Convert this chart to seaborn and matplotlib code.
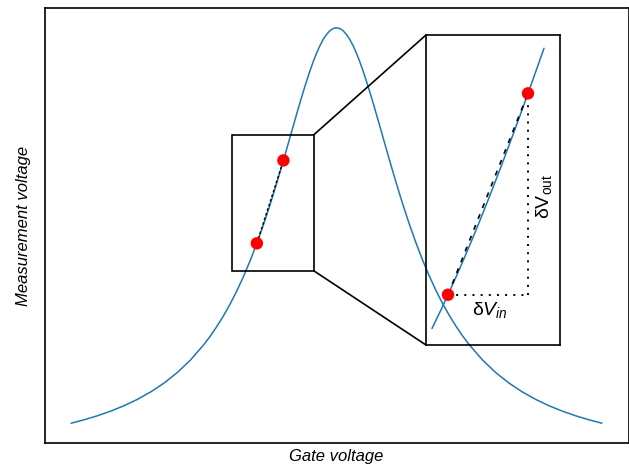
import matplotlib
matplotlib.use("Agg")
import matplotlib.pyplot as plt
from matplotlib.patches import Rectangle, ConnectionPatch
import seaborn as sns
import pandas as pd

# ---- data ----
gate_v = [-4.0, -3.8, -3.6, -3.4, -3.2, -3.0, -2.8, -2.6, -2.4, -2.2,
          -2.0, -1.9, -1.8, -1.7, -1.6, -1.5, -1.4, -1.3, -1.2, -1.1,
          -1.0, -0.95, -0.9, -0.85, -0.8, -0.75, -0.7, -0.65, -0.6, -0.55,
          -0.5, -0.45, -0.4, -0.35, -0.3, -0.25, -0.2, -0.15, -0.1, -0.05,
          0.0,
          0.05, 0.1, 0.15, 0.2, 0.25, 0.3, 0.35, 0.4, 0.45, 0.5,
          0.55, 0.6, 0.65, 0.7, 0.75, 0.8, 0.85, 0.9, 0.95, 1.0,
          1.1, 1.2, 1.3, 1.4, 1.5, 1.6, 1.7, 1.8, 1.9, 2.0,
          2.2, 2.4, 2.6, 2.8, 3.0, 3.2, 3.4, 3.6, 3.8, 4.0]
meas_v = [0.0826, 0.0907, 0.1000, 0.1108, 0.1233, 0.1379, 0.1552, 0.1756, 0.2000, 0.2293,
          0.2647, 0.2851, 0.3077, 0.3326, 0.3600, 0.3902, 0.4235, 0.4601, 0.5000, 0.5434,
          0.5902, 0.6147, 0.6400, 0.6659, 0.6923, 0.7191, 0.7461, 0.7732, 0.8000, 0.8264,
          0.8521, 0.8767, 0.9000, 0.9216, 0.9412, 0.9584, 0.9730, 0.9846, 0.9931, 0.9983,
          1.0000,
          0.9983, 0.9931, 0.9846, 0.9730, 0.9584, 0.9412, 0.9216, 0.9000, 0.8767, 0.8521,
          0.8264, 0.8000, 0.7732, 0.7461, 0.7191, 0.6923, 0.6659, 0.6400, 0.6147, 0.5902,
          0.5434, 0.5000, 0.4601, 0.4235, 0.3902, 0.3600, 0.3326, 0.3077, 0.2851, 0.2647,
          0.2293, 0.2000, 0.1756, 0.1552, 0.1379, 0.1233, 0.1108, 0.1000, 0.0907, 0.0826]

zoom_gate_v = [-1.28, -1.24, -1.20, -1.16, -1.12, -1.08, -1.04, -1.00,
               -0.96, -0.92, -0.88, -0.84, -0.80, -0.76, -0.72]
zoom_meas_v = [0.4678, 0.4836, 0.5000, 0.5169, 0.5344, 0.5525, 0.5711,
               0.5902, 0.6098, 0.6298, 0.6503, 0.6711, 0.6923, 0.7137, 0.7353]

point_gate_v = [-1.2, -0.8]
point_meas_v = [0.5, 0.6923]

box_x = [-1.57, -0.34]
box_y = [0.436, 0.752]
inset_xlim = [-1.31, -0.64]
inset_ylim = [0.452, 0.748]

xlabel = "Gate voltage"
ylabel = "Measurement voltage"
label_in = r"δ$V_{in}$"
label_out = r"δV$_{\mathrm{out}}$"

# ---- style ----
sns.set_style("white")
plt.rcParams["font.family"] = ["Liberation Sans", "DejaVu Sans"]
plt.rcParams["mathtext.fontset"] = "custom"
plt.rcParams["mathtext.rm"] = "Liberation Sans"
plt.rcParams["mathtext.it"] = "Liberation Sans:italic"
plt.rcParams["mathtext.bf"] = "Liberation Sans:bold"
plt.rcParams["text.color"] = "black"
plt.rcParams["axes.labelcolor"] = "black"

W, H = 629, 469
fig = plt.figure(figsize=(W / 100, H / 100), dpi=100)
ax = fig.add_axes([44.5 / W, (H - 443) / H, 584 / W, 435 / H])
axins = fig.add_axes([426 / W, (H - 345) / H, 134 / W, 310 / H])
axins.set_facecolor("none")

blue = "#1f77b4"
df = pd.DataFrame({"g": gate_v, "m": meas_v})
sns.lineplot(data=df, x="g", y="m", ax=ax, color=blue, lw=1.1, sort=True)
ax.set_xlim(-4.4, 4.4)
ax.set_ylim(0.0367, 1.0459)

pts = pd.DataFrame({"g": point_gate_v, "m": point_meas_v})
ax.plot(point_gate_v, point_meas_v, color="black", lw=1.0,
        linestyle=(0, (2, 1.5)), zorder=3)
sns.scatterplot(data=pts, x="g", y="m", ax=ax, color="red", s=80,
                edgecolor="none", zorder=4)
ax.add_patch(Rectangle((box_x[0], box_y[0]), box_x[1] - box_x[0],
                       box_y[1] - box_y[0], fill=False, ec="black", lw=1.2,
                       zorder=5))

ax.set_xticks([])
ax.set_yticks([])
ax.set_xlabel(xlabel, fontsize=12, style="italic", labelpad=4)
ax.set_ylabel(ylabel, fontsize=12, style="italic", labelpad=10)
for s in ax.spines.values():
    s.set_color("black")
    s.set_linewidth(1.2)

# inset
zdf = pd.DataFrame({"g": zoom_gate_v, "m": zoom_meas_v})
sns.lineplot(data=zdf, x="g", y="m", ax=axins, color=blue, lw=1.1)
axins.plot(point_gate_v, point_meas_v, color="black", lw=1.2,
           linestyle=(0, (3, 4)), zorder=3)
axins.plot([point_gate_v[0], point_gate_v[1]], [point_meas_v[0], point_meas_v[0]],
           color="black", lw=1.4, linestyle=(0, (1, 3.2)), zorder=3)
axins.plot([point_gate_v[1], point_gate_v[1]], [point_meas_v[0], point_meas_v[1]],
           color="black", lw=1.4, linestyle=(0, (1, 3.2)), zorder=3)
sns.scatterplot(data=pts, x="g", y="m", ax=axins, color="red", s=80,
                edgecolor="none", zorder=4)
axins.set_xlim(*inset_xlim)
axins.set_ylim(*inset_ylim)
axins.set_xticks([])
axins.set_yticks([])
axins.set_xlabel("")
axins.set_ylabel("")
for s in axins.spines.values():
    s.set_color("black")
    s.set_linewidth(1.2)

axins.text(-0.99, 0.4857, label_in, fontsize=14, ha="center", va="center")
axins.text(-0.72, 0.594, label_out, fontsize=14, ha="center", va="center",
           rotation=90)

for yb, ya in [(box_y[1], 1), (box_y[0], 0)]:
    con = ConnectionPatch(xyA=(box_x[1], yb), coordsA=ax.transData,
                          xyB=(0, ya), coordsB=axins.transAxes,
                          color="black", lw=1.2)
    fig.add_artist(con)

fig.savefig("out.png", dpi=100)
